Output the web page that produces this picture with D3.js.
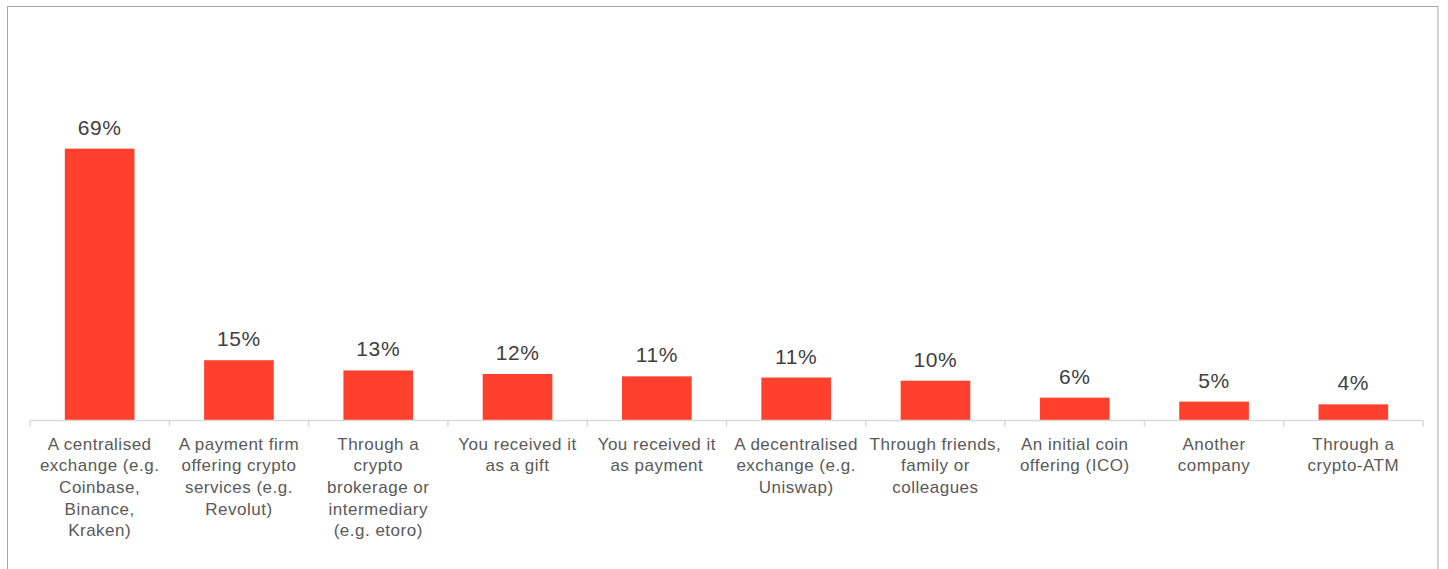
<!DOCTYPE html>
<html>
<head>
<meta charset="utf-8">
<script src="https://cdn.jsdelivr.net/npm/d3@7"></script>
<style>
  html, body { margin: 0; padding: 0; background: #fff; }
  svg { display: block; }
</style>
</head>
<body>
<svg id="chart" width="1448" height="569"></svg>
<script>
const categories = [
  "A centralised\nexchange (e.g.\nCoinbase,\nBinance,\nKraken)",
  "A payment firm\noffering crypto\nservices (e.g.\nRevolut)",
  "Through a\ncrypto\nbrokerage or\nintermediary\n(e.g. etoro)",
  "You received it\nas a gift",
  "You received it\nas payment",
  "A decentralised\nexchange (e.g.\nUniswap)",
  "Through friends,\nfamily or\ncolleagues",
  "An initial coin\noffering (ICO)",
  "Another\ncompany",
  "Through a\ncrypto-ATM"
];
const values = [69, 15.3, 12.7, 11.8, 11.2, 10.9, 10.1, 5.8, 4.8, 4.1];
const yDomain = [0, 80];

const svg = d3.select("#chart");

// outer frame
svg.append("rect")
  .attr("x", 7.5).attr("y", 6.5)
  .attr("width", 1430.5).attr("height", 600)
  .attr("fill", "none").attr("stroke", "#a6a6a6").attr("stroke-width", 1);

const x0 = 30, x1 = 1423, yBase = 420.5;
const x = d3.scaleBand().domain(d3.range(categories.length)).range([x0, x1]).paddingInner(0.5).paddingOuter(0.25);
const y = d3.scaleLinear().domain(yDomain).range([yBase, yBase - 3.94 * 80]);

const g = svg.append("g");

// bars
g.selectAll("rect.bar").data(values).join("rect")
  .attr("class", "bar")
  .attr("x", (d, i) => x(i))
  .attr("width", x.bandwidth())
  .attr("y", d => y(d))
  .attr("height", d => y(0) - y(d))
  .attr("fill", "#ff402d");

// axis line and ticks
const step = (x1 - x0) / categories.length;
g.append("line")
  .attr("x1", x0).attr("x2", x1)
  .attr("y1", yBase).attr("y2", yBase)
  .attr("stroke", "#d9d9d9").attr("stroke-width", 1.5);
g.selectAll("line.tick").data(d3.range(categories.length + 1)).join("line")
  .attr("class", "tick")
  .attr("x1", i => x0 + i * step).attr("x2", i => x0 + i * step)
  .attr("y1", yBase).attr("y2", yBase + 6)
  .attr("stroke", "#d9d9d9").attr("stroke-width", 1.5);

// value labels
const fmt = d => d3.format(".0f")(d) + "%";
g.selectAll("text.val").data(values).join("text")
  .attr("class", "val")
  .attr("x", (d, i) => x(i) + x.bandwidth() / 2)
  .attr("y", d => y(d) - 14)
  .attr("text-anchor", "middle")
  .attr("font-family", "Liberation Sans, Arial, sans-serif")
  .attr("font-size", 21)
  .attr("letter-spacing", 0.6)
  .attr("fill", "#404040")
  .text(fmt);

// category labels
const labels = g.selectAll("text.cat").data(categories).join("text")
  .attr("class", "cat")
  .attr("text-anchor", "middle")
  .attr("font-family", "Liberation Sans, Arial, sans-serif")
  .attr("font-size", 17)
  .attr("letter-spacing", 0.5)
  .attr("fill", "#595959");
labels.each(function(d, i) {
  const t = d3.select(this);
  const cx = x(i) + x.bandwidth() / 2;
  d.split("\n").forEach((line, k) => {
    t.append("tspan")
      .attr("x", cx)
      .attr("y", 449.5 + k * 21.7)
      .text(line);
  });
});
</script>
</body>
</html>
